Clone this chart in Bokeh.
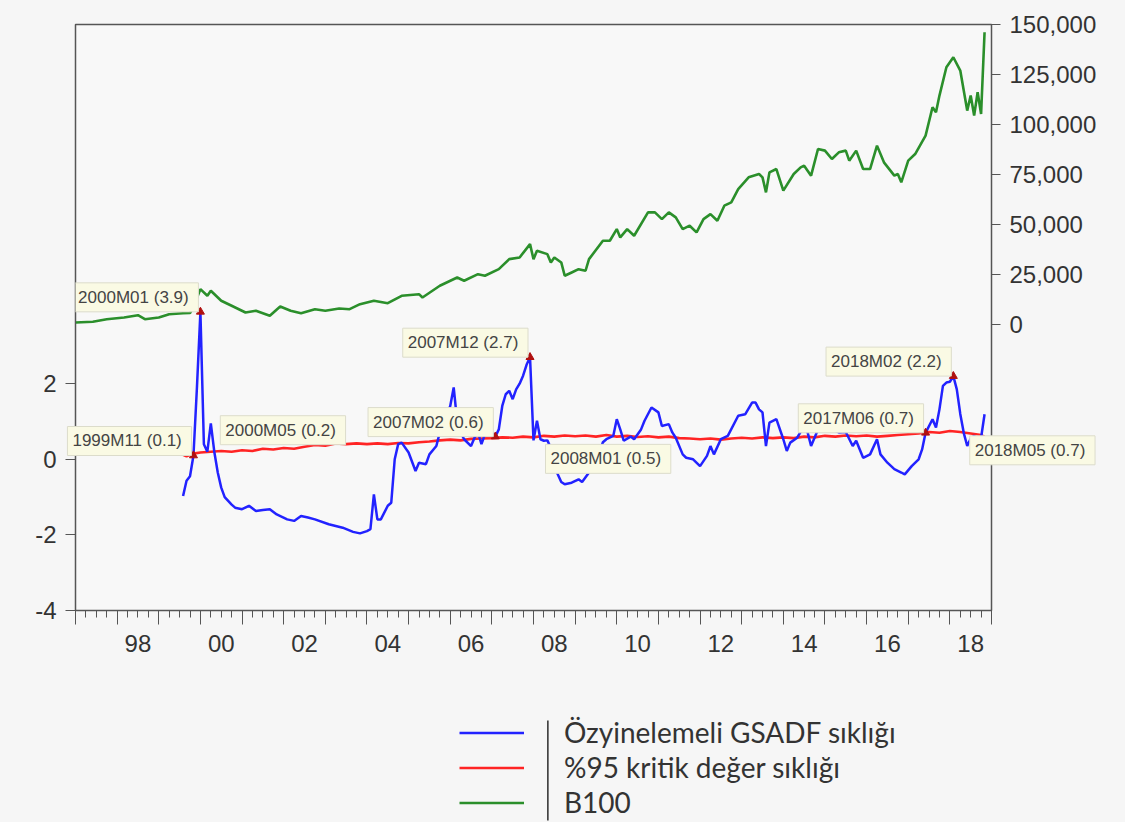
from bokeh.plotting import figure
from bokeh.layouts import column
from bokeh.models import (Range1d, LinearAxis, FixedTicker, NumeralTickFormatter,
                          Legend, LegendItem, Label, BoxAnnotation)
from bokeh.embed import file_html
from bokeh.resources import INLINE

# ---------------- data ----------------
b100_dates = ["1997M01", "1997M06", "1997M10", "1998M03", "1998M07", "1998M09", "1999M01", "1999M04",
              "1999M08", "1999M10", "1999M11", "1999M12", "2000M01", "2000M03", "2000M04", "2000M07",
              "2000M10", "2001M02", "2001M05", "2001M09", "2001M12", "2002M03", "2002M06", "2002M10",
              "2003M01", "2003M05", "2003M08", "2003M11", "2004M03", "2004M07", "2004M11", "2005M04",
              "2005M05", "2005M10", "2006M03", "2006M05", "2006M09", "2006M11", "2007M03", "2007M06",
              "2007M09", "2007M12", "2008M01", "2008M02", "2008M05", "2008M06", "2008M07", "2008M09",
              "2008M10", "2008M12", "2009M02", "2009M04", "2009M05", "2009M09", "2009M11", "2010M01",
              "2010M02", "2010M04", "2010M06", "2010M10", "2010M12", "2011M02", "2011M04", "2011M06",
              "2011M08", "2011M10", "2011M12", "2012M02", "2012M04", "2012M06", "2012M08", "2012M10",
              "2012M12", "2013M03", "2013M06", "2013M07", "2013M08", "2013M09", "2013M11", "2014M01",
              "2014M04", "2014M06", "2014M07", "2014M09", "2014M11", "2015M01", "2015M03", "2015M05",
              "2015M07", "2015M08", "2015M10", "2015M12", "2016M02", "2016M04", "2016M06", "2016M09",
              "2016M10", "2016M11", "2017M01", "2017M03", "2017M06", "2017M08", "2017M09", "2017M10",
              "2017M12", "2018M02", "2018M04", "2018M06", "2018M07", "2018M08", "2018M09", "2018M10",
              "2018M11"]
b100_values = [1150, 1500, 2800, 3650, 4800, 2800, 3650, 5300,
               5800, 5900, 9000, 13500, 17800, 14500, 17000, 12000,
               9500, 6150, 7000, 4500, 9150, 7000, 5800, 7800,
               7000, 8150, 7800, 10300, 12000, 10800, 14500, 15300,
               13650, 19500, 23650, 22000, 25300, 24500, 27800, 32800,
               33650, 40300, 32800, 37000, 35300, 31150, 33650, 31150,
               24500, 26150, 27800, 27000, 32800, 42000, 42000, 47800,
               43650, 47800, 44500, 56150, 56150, 52800, 56150, 53650,
               47800, 49500, 46150, 52800, 55300, 52000, 59500, 61150,
               67800, 73650, 75300, 73650, 66150, 76150, 77800, 67000,
               75300, 78650, 79500, 74500, 87800, 87000, 82800, 86150,
               87000, 82000, 87000, 77800, 77800, 89500, 81150, 74500,
               75300, 71150, 82000, 85300, 94500, 108650, 106150, 114500,
               128650, 133650, 127000, 107000, 114500, 104500, 116150, 105300,
               146150]

gsadf_dates = ["1999M08", "1999M09", "1999M10", "1999M11", "1999M12", "2000M01", "2000M02", "2000M03",
               "2000M04", "2000M05", "2000M06", "2000M07", "2000M08", "2000M09", "2000M10", "2000M11",
               "2001M01", "2001M03", "2001M05", "2001M07", "2001M09", "2001M11", "2002M02", "2002M04",
               "2002M06", "2002M08", "2002M10", "2003M02", "2003M06", "2003M09", "2003M11", "2004M01",
               "2004M02", "2004M03", "2004M04", "2004M05", "2004M07", "2004M08", "2004M09", "2004M10",
               "2004M11", "2005M01", "2005M03", "2005M04", "2005M06", "2005M07", "2005M09", "2005M10",
               "2005M11", "2006M01", "2006M02", "2006M03", "2006M04", "2006M05", "2006M07", "2006M08",
               "2006M09", "2006M10", "2006M11", "2007M01", "2007M02", "2007M03", "2007M04", "2007M05",
               "2007M06", "2007M07", "2007M08", "2007M09", "2007M10", "2007M11", "2007M12", "2008M01",
               "2008M02", "2008M03", "2008M04", "2008M05", "2008M06", "2008M07", "2008M09", "2008M10",
               "2008M12", "2009M02", "2009M03", "2009M05", "2009M07", "2009M09", "2009M10", "2009M12",
               "2010M01", "2010M02", "2010M03", "2010M05", "2010M06", "2010M08", "2010M09", "2010M11",
               "2011M01", "2011M02", "2011M04", "2011M05", "2011M06", "2011M08", "2011M09", "2011M11",
               "2012M01", "2012M03", "2012M04", "2012M05", "2012M07", "2012M09", "2012M12", "2013M02",
               "2013M04", "2013M05", "2013M06", "2013M07", "2013M08", "2013M09", "2013M11", "2014M01",
               "2014M02", "2014M03", "2014M05", "2014M07", "2014M08", "2014M09", "2014M11", "2015M01",
               "2015M03", "2015M05", "2015M07", "2015M09", "2015M10", "2015M12", "2016M02", "2016M04",
               "2016M05", "2016M07", "2016M09", "2016M11", "2016M12", "2017M02", "2017M04", "2017M05",
               "2017M06", "2017M08", "2017M09", "2017M10", "2017M11", "2017M12", "2018M01", "2018M02",
               "2018M03", "2018M04", "2018M05", "2018M06", "2018M07", "2018M08", "2018M09", "2018M10",
               "2018M11"]
gsadf_values = [-0.97, -0.57, -0.45, 0.1, 1.9, 3.9, 0.4, 0.2,
                0.95, 0.2, -0.35, -0.75, -1.0, -1.1, -1.2, -1.28,
                -1.32, -1.23, -1.37, -1.34, -1.32, -1.46, -1.59, -1.63,
                -1.5, -1.54, -1.59, -1.72, -1.81, -1.92, -1.96, -1.9,
                -1.85, -0.93, -1.59, -1.59, -1.23, -1.15, 0.0, 0.4,
                0.44, 0.18, -0.31, -0.09, -0.13, 0.13, 0.35, 0.71,
                0.88, 1.41, 1.9, 1.0, 0.71, 0.53, 0.35, 0.57,
                0.71, 0.4, 0.66, 0.7, 0.6, 0.79, 1.41, 1.72,
                1.81, 1.59, 1.85, 2.0, 2.21, 2.5, 2.7, 0.5,
                1.02, 0.53, 0.49, 0.5, 0.3, -0.2, -0.6, -0.66,
                -0.62, -0.53, -0.6, -0.35, -0.1, 0.45, 0.53, 0.62,
                1.06, 0.79, 0.49, 0.6, 0.53, 0.79, 1.02, 1.37,
                1.24, 0.88, 0.93, 0.71, 0.57, 0.13, 0.04, 0.0,
                -0.18, 0.09, 0.35, 0.13, 0.53, 0.62, 1.15, 1.19,
                1.5, 1.5, 1.32, 1.24, 0.35, 0.97, 1.06, 0.53,
                0.22, 0.44, 0.57, 0.88, 0.71, 0.35, 0.79, 0.95,
                0.79, 0.71, 0.72, 0.35, 0.49, 0.04, 0.13, 0.53,
                0.13, -0.09, -0.26, -0.35, -0.4, -0.18, 0.0, 0.26,
                0.7, 1.06, 0.84, 1.32, 1.94, 2.03, 2.05, 2.2,
                1.85, 1.2, 0.7, 0.35, 0.55, 0.62, 0.53, 0.57,
                1.19]

cv_dates = ["1999M08", "1999M09", "1999M10", "1999M11", "2000M01", "2000M04", "2000M07", "2000M10",
            "2001M01", "2001M04", "2001M07", "2001M10", "2002M01", "2002M04", "2002M07", "2002M10",
            "2003M01", "2003M04", "2003M07", "2003M10", "2004M01", "2004M04", "2004M07", "2004M10",
            "2005M01", "2005M04", "2005M07", "2005M10", "2006M01", "2006M04", "2006M07", "2006M10",
            "2007M01", "2007M04", "2007M07", "2007M10", "2008M01", "2008M04", "2008M07", "2008M10",
            "2009M01", "2009M04", "2009M07", "2009M10", "2010M01", "2010M04", "2010M07", "2010M10",
            "2011M01", "2011M04", "2011M07", "2011M10", "2012M01", "2012M04", "2012M07", "2012M10",
            "2013M01", "2013M04", "2013M07", "2013M10", "2014M01", "2014M04", "2014M07", "2014M10",
            "2015M01", "2015M04", "2015M07", "2015M10", "2016M01", "2016M04", "2016M07", "2016M10",
            "2017M01", "2017M04", "2017M07", "2017M10", "2018M01", "2018M04", "2018M07", "2018M10",
            "2018M11"]
cv_values = [0.12, 0.08, 0.12, 0.15, 0.18, 0.2, 0.22, 0.2,
             0.24, 0.22, 0.28, 0.26, 0.3, 0.28, 0.33, 0.38,
             0.36, 0.42, 0.4, 0.42, 0.4, 0.42, 0.4, 0.43,
             0.42, 0.45, 0.47, 0.5, 0.52, 0.5, 0.54, 0.55,
             0.56, 0.58, 0.57, 0.6, 0.58, 0.62, 0.6, 0.63,
             0.61, 0.63, 0.6, 0.64, 0.6, 0.62, 0.59, 0.61,
             0.58, 0.6, 0.56, 0.55, 0.53, 0.55, 0.52, 0.55,
             0.57, 0.55, 0.58, 0.56, 0.58, 0.56, 0.6, 0.58,
             0.62, 0.6, 0.63, 0.61, 0.63, 0.6, 0.62, 0.64,
             0.66, 0.68, 0.72, 0.7, 0.75, 0.72, 0.68, 0.64,
             0.6]

label_dates = ["1999M11", "2000M01", "2000M05", "2007M02", "2007M12", "2008M01", "2017M06", "2018M02", "2018M05"]
label_values = [0.1, 3.9, 0.2, 0.6, 2.7, 0.5, 0.7, 2.2, 0.7]

year_label_pos = [1998, 2000, 2002, 2004, 2006, 2008, 2010, 2012, 2014, 2016, 2018]
year_labels = ["98", "00", "02", "04", "06", "08", "10", "12", "14", "16", "18"]

right_ticks = [0, 25000, 50000, 75000, 100000, 125000, 150000]
left_ticks = [-4, -2, 0, 2]

series_names = ["Özyinelemeli GSADF sıklığı", "%95 kritik değer sıklığı", "B100"]
series_colors = ["#2222ff", "#ff2424", "#2b8f2b"]


def to_x(d):
    y, m = d.split("M")
    return int(y) + (int(m) - 1) / 12.0


BG = "#f6f6f6"
FONT = "Liberation Sans"
LEFT, RIGHT = 75, 134

# ---------------- main figure ----------------
p = figure(width=1125, height=714, output_backend="svg", toolbar_location=None,
           x_range=Range1d(1997, 2019), y_range=Range1d(-4, 11.5),
           min_border_left=LEFT, min_border_right=RIGHT, min_border_top=24, min_border_bottom=104)
p.extra_y_ranges = {"b100": Range1d(-142700, 150000)}

p.background_fill_color = "#f8f8f8"
p.border_fill_color = BG
p.outline_line_color = "#555555"
p.outline_line_width = 1.5
p.grid.visible = False

r_green = p.line([to_x(d) for d in b100_dates], b100_values, y_range_name="b100",
                 line_color=series_colors[2], line_width=2.6)
r_red = p.line([to_x(d) for d in cv_dates], cv_values, line_color=series_colors[1], line_width=2.6)
r_blue = p.line([to_x(d) for d in gsadf_dates], gsadf_values, line_color=series_colors[0], line_width=2.5)

# bottom axis: ticks only (years long, quarters short)
xa = p.xaxis[0]
xa.ticker = FixedTicker(ticks=list(range(1997, 2020)),
                        minor_ticks=[1997 + q / 4 for q in range(0, 22 * 4 + 1)])
xa.major_tick_out = 14
xa.major_tick_in = 0
xa.minor_tick_out = 7
xa.minor_tick_in = 0
xa.major_tick_line_color = "#555555"
xa.minor_tick_line_color = "#555555"
xa.axis_line_color = "#555555"
xa.major_label_text_color = None
xa.major_label_text_font_size = "1px"
xa.major_label_standoff = 0

# bottom axis: labels centred on the years
xl = LinearAxis(ticker=FixedTicker(ticks=[y + 0.5 for y in year_label_pos], minor_ticks=[]),
                major_label_overrides={y + 0.5: t for y, t in zip(year_label_pos, year_labels)},
                major_tick_out=0, major_tick_in=0, minor_tick_out=0, minor_tick_in=0,
                axis_line_color=None, major_label_standoff=10,
                major_label_text_font=FONT, major_label_text_font_size="24px",
                major_label_text_color="#333333")
p.add_layout(xl, "below")

# left axis
ya = p.yaxis[0]
ya.ticker = FixedTicker(ticks=left_ticks, minor_ticks=[])
ya.major_label_overrides = {t: str(t) for t in left_ticks}
ya.major_tick_out = 10
ya.major_tick_in = 0
ya.axis_line_color = "#555555"
ya.major_tick_line_color = "#555555"
ya.major_label_standoff = 9
ya.major_label_text_font = FONT
ya.major_label_text_font_size = "24px"
ya.major_label_text_color = "#333333"

# right axis
yr = LinearAxis(y_range_name="b100", ticker=FixedTicker(ticks=right_ticks, minor_ticks=[]),
                formatter=NumeralTickFormatter(format="0,0"),
                major_tick_out=9, major_tick_in=0, minor_tick_out=0, minor_tick_in=0,
                axis_line_color="#555555", major_tick_line_color="#555555",
                major_label_standoff=9, major_label_text_font=FONT,
                major_label_text_font_size="24px", major_label_text_color="#333333")
p.add_layout(yr, "right")

# event labels
anchors = ["br", "br", "bl", "br", "br", "tl", "br", "br", "tl"]
outside = [True, False, False, False, False, False, False, False, True]
for d, v, a, o in zip(label_dates, label_values, anchors, outside):
    txt = "%s  (%.1f)" % (d, v)
    if a == "br":
        kw = dict(text_align="right", text_baseline="bottom", x_offset=-2, y_offset=0)
    elif a == "bl":
        kw = dict(text_align="left", text_baseline="bottom", x_offset=6, y_offset=7)
    elif o:
        kw = dict(text_align="left", text_baseline="top", x_offset=6, y_offset=-3)
    else:
        kw = dict(text_align="left", text_baseline="top", x_offset=12, y_offset=-4)
    lab = Label(x=to_x(d), y=v, text=txt, text_font=FONT, text_font_size="17px",
                text_color="#444444", background_fill_color="#fafae4",
                border_line_color="#dcdccb", border_line_width=1, padding=5, **kw)
    # labels that stick out of the frame live in a side panel so they are not clipped
    p.add_layout(lab, "below" if o else "center")

tri_idx = [i for i, a in enumerate(anchors) if a == "br"]
p.scatter([to_x(label_dates[i]) for i in tri_idx], [label_values[i] for i in tri_idx],
          marker="triangle", size=8, fill_color="#b01010", line_color="#b01010")

# ---------------- legend strip ----------------
q = figure(width=1125, height=108, output_backend="svg", toolbar_location=None,
           x_range=Range1d(0, 1), y_range=Range1d(0, 1),
           min_border_left=LEFT, min_border_right=RIGHT, min_border_top=0, min_border_bottom=0,
           x_axis_location=None, y_axis_location=None)
q.grid.visible = False
q.outline_line_color = None
q.background_fill_color = BG
q.border_fill_color = BG
nan = float("nan")
keys = [q.line([nan], [nan], line_color=c, line_width=2.6) for c in series_colors]
legend = Legend(items=[LegendItem(label=n, renderers=[k]) for n, k in zip(series_names, keys)],
                location=(384, 3), orientation="vertical",
                padding=0, margin=0, spacing=1,
                glyph_width=65, glyph_height=33, label_height=33, label_standoff=40,
                label_text_font="Lato", label_text_font_size="28px", label_text_color="#333333",
                background_fill_alpha=0, border_line_alpha=0)
q.add_layout(legend)
q.add_layout(BoxAnnotation(left=471.5, right=473.2, bottom=2, top=102,
                           left_units="screen", right_units="screen",
                           bottom_units="screen", top_units="screen",
                           fill_color="#444444", fill_alpha=1, line_alpha=0))

layout = column(p, q, spacing=0, styles={"background-color": BG})
open("out.html", "w").write(file_html(layout, INLINE))
